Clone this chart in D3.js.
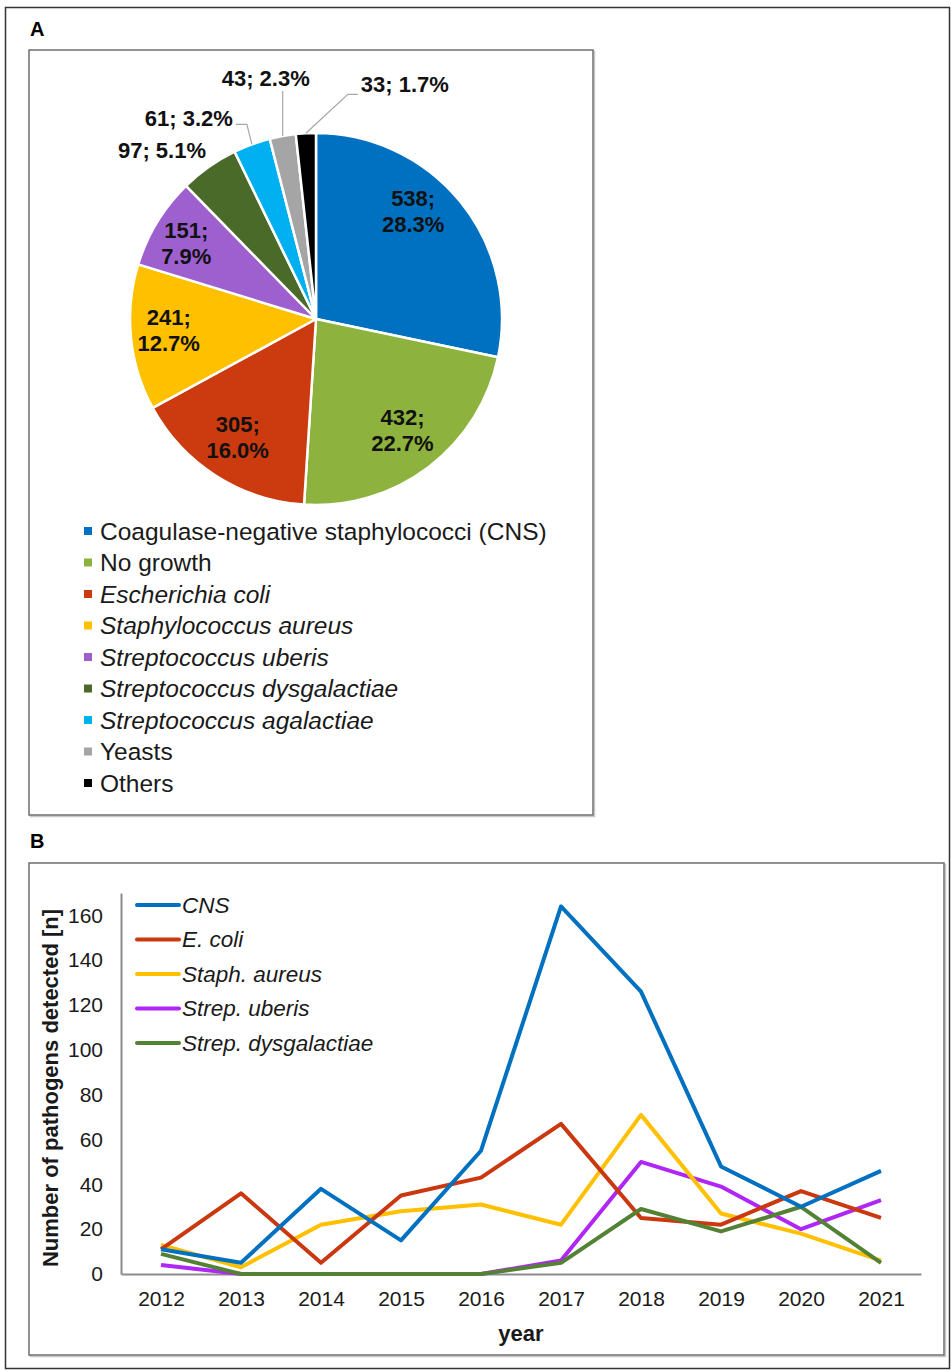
<!DOCTYPE html>
<html>
<head>
<meta charset="utf-8">
<script src="https://cdn.jsdelivr.net/npm/d3@7"></script>
<style>
  html, body { margin: 0; padding: 0; background: #fff; }
  svg { display: block; font-family: "Liberation Sans", Arial, sans-serif; }
</style>
</head>
<body>
<svg id="fig" width="951" height="1370"></svg>
<script>
// ---- Panel A: pathogen distribution ----
const pieCategories = [
  "Coagulase-negative staphylococci (CNS)", "No growth", "Escherichia coli",
  "Staphylococcus aureus", "Streptococcus uberis", "Streptococcus dysgalactiae",
  "Streptococcus agalactiae", "Yeasts", "Others"
];
const pieItalic = [false, false, true, true, true, true, true, false, false];
const pieCounts = [538, 432, 305, 241, 151, 97, 61, 43, 33];
const piePercents = ["28.3%", "22.7%", "16.0%", "12.7%", "7.9%", "5.1%", "3.2%", "2.3%", "1.7%"];
const pieColors = ["#0070C0", "#8DB33E", "#CC3A0F", "#FFC000", "#9F60CF", "#4A6A2A", "#00B0F0", "#A5A5A5", "#000000"];

// ---- Panel B: yearly counts ----
const years = ["2012", "2013", "2014", "2015", "2016", "2017", "2018", "2019", "2020", "2021"];
const seriesNames = ["CNS", "E. coli", "Staph. aureus", "Strep. uberis", "Strep. dysgalactiae"];
const cnsCounts    = [11, 5, 38, 15, 55, 164, 126, 48, 30, 46];
const ecoliCounts  = [11, 36, 5, 35, 43, 67, 25, 22, 37, 25];
const aureusCounts = [13, 3, 22, 28, 31, 22, 71, 27, 18, 6];
const uberisCounts = [4, 0, 0, 0, 0, 6, 50, 39, 20, 33];
const dysgalCounts = [9, 0, 0, 0, 0, 5, 29, 19, 30, 5];
const lineColors = ["#0070C0", "#C9380F", "#FFC000", "#B026F5", "#548235"];
const yTicks = [0, 20, 40, 60, 80, 100, 120, 140, 160];

const svg = d3.select("#fig");

// outer frame
svg.append("rect").attr("x", 5.5).attr("y", 7.5).attr("width", 944).attr("height", 1361)
  .attr("fill", "none").attr("stroke", "#333").attr("stroke-width", 1.5);

// panel letters
svg.append("text").attr("x", 30).attr("y", 36).attr("font-size", 20).attr("font-weight", "bold").text("A");
svg.append("text").attr("x", 30).attr("y", 848).attr("font-size", 20).attr("font-weight", "bold").text("B");

// panel boxes
function panelBox(x, y, w, h) {
  svg.append("rect").attr("x", x + 1.5).attr("y", y + 1.5).attr("width", w).attr("height", h)
    .attr("fill", "none").attr("stroke", "#c8c8c8").attr("stroke-width", 1.5);
  svg.append("rect").attr("x", x).attr("y", y).attr("width", w).attr("height", h)
    .attr("fill", "#fff").attr("stroke", "#6e6e6e").attr("stroke-width", 1.5);
}
panelBox(29, 50, 564, 765);
panelBox(29, 863, 915, 492);

// ---- pie ----
const cx = 316, cy = 319, R = 186;
const pieGen = d3.pie().sort(null).value(d => d);
const arcs = pieGen(pieCounts);
const arcGen = d3.arc().innerRadius(0).outerRadius(R);
const gPie = svg.append("g").attr("transform", `translate(${cx},${cy})`);

gPie.selectAll("path.slice").data(arcs).join("path")
  .attr("class", "slice")
  .attr("d", arcGen)
  .attr("fill", (d, i) => pieColors[i])
  .attr("stroke", "#fff").attr("stroke-width", 2.5).attr("stroke-linejoin", "round");

// labels inside large slices
const labelArc = d3.arc().innerRadius(138).outerRadius(138);
const insideNudge = [[-10, -22], [3, 0], [-4, 1], [-10, -4], [-12, -5]];
arcs.slice(0, 5).forEach((a, i) => {
  const [x, y] = labelArc.centroid(a);
  const t = gPie.append("text")
    .attr("text-anchor", "middle")
    .attr("font-size", 22).attr("font-weight", "bold").attr("fill", "#111");
  const lx = x + insideNudge[i][0], ly = y + insideNudge[i][1];
  t.append("tspan").attr("x", lx).attr("y", ly - 4).text(pieCounts[i] + ";");
  t.append("tspan").attr("x", lx).attr("y", ly + 22).text(piePercents[i]);
});

// labels outside small slices, with leader lines where needed
function edgePoint(a, r) {
  const ang = (a.startAngle + a.endAngle) / 2;
  return [r * Math.sin(ang), -r * Math.cos(ang)];
}
const outsideLayout = [
  { anchor: "end",    text: [-3, -15], leader: null },
  { anchor: "end",    text: [-19, -24], leader: [[-5, -20], [-16, -20]] },
  { anchor: "middle", text: [-17, -56], leader: [[0, -45]] },
  { anchor: "start",  text: [55, -47], leader: [[42, -39], [52, -39]] }
];
arcs.slice(5).forEach((a, k) => {
  const i = k + 5;
  const L = outsideLayout[k];
  const [ex, ey] = edgePoint(a, R);
  if (L.leader) {
    const pts = [[ex, ey]].concat(L.leader.map(p => [ex + p[0], ey + p[1]]));
    gPie.append("path").attr("d", d3.line()(pts))
      .attr("fill", "none").attr("stroke", "#a6a6a6").attr("stroke-width", 1.2);
  }
  gPie.append("text")
    .attr("x", ex + L.text[0]).attr("y", ey + L.text[1])
    .attr("text-anchor", L.anchor).attr("dominant-baseline", "middle")
    .attr("font-size", 22).attr("font-weight", "bold").attr("fill", "#111")
    .text(`${pieCounts[i]}; ${piePercents[i]}`);
});

// pie legend
const gLeg = svg.append("g").attr("transform", "translate(84,531)");
pieCategories.forEach((c, i) => {
  const row = gLeg.append("g").attr("transform", `translate(0,${i * 31.5})`);
  row.append("rect").attr("x", 0).attr("y", -4).attr("width", 8).attr("height", 8).attr("fill", pieColors[i]);
  row.append("text").attr("x", 16).attr("y", 0).attr("dominant-baseline", "central")
    .attr("font-size", 24.5).attr("fill", "#1a1a1a")
    .attr("font-style", pieItalic[i] ? "italic" : "normal").text(c);
});

// ---- line chart ----
const plotLeft = 121, plotRight = 921, plotTop = 893, plotBottom = 1274;
const x = d3.scalePoint().domain(years).range([plotLeft, plotRight]).padding(0.5);
const y = d3.scaleLinear().domain([0, 170]).range([plotBottom, plotTop]);

const yAxis = svg.append("g").attr("transform", `translate(${plotLeft},0)`)
  .call(d3.axisLeft(y).tickValues(yTicks).tickSize(0).tickPadding(18));
yAxis.select(".domain").attr("stroke", "#8c8c8c").attr("stroke-width", 2);
yAxis.selectAll("text").attr("font-size", 21).attr("fill", "#1a1a1a")
  .attr("font-family", "Liberation Sans, Arial, sans-serif");

const xAxis = svg.append("g").attr("transform", `translate(0,${plotBottom})`)
  .call(d3.axisBottom(x).tickSize(0).tickPadding(17));
xAxis.select(".domain").attr("stroke", "#8c8c8c").attr("stroke-width", 2);
xAxis.selectAll("text").attr("font-size", 21).attr("fill", "#1a1a1a")
  .attr("font-family", "Liberation Sans, Arial, sans-serif");

svg.append("text").attr("transform", "translate(58,1088) rotate(-90)")
  .attr("text-anchor", "middle").attr("font-size", 22).attr("font-weight", "bold").attr("fill", "#1a1a1a")
  .text("Number of pathogens detected [n]");
svg.append("text").attr("x", 521).attr("y", 1341)
  .attr("text-anchor", "middle").attr("font-size", 22).attr("font-weight", "bold").attr("fill", "#1a1a1a")
  .text("year");

const series = [cnsCounts, ecoliCounts, aureusCounts, uberisCounts, dysgalCounts];
const lineGen = d3.line().x((d, i) => x(years[i])).y(d => y(d));
// draw from back to front so CNS sits on top
[3, 2, 1, 4, 0].forEach(s => {
  svg.append("path").datum(series[s]).attr("d", lineGen)
    .attr("fill", "none").attr("stroke", lineColors[s]).attr("stroke-width", 4)
    .attr("stroke-linejoin", "round");
});

// line legend
const gLL = svg.append("g").attr("transform", "translate(137,905)");
seriesNames.forEach((n, i) => {
  const row = gLL.append("g").attr("transform", `translate(0,${i * 34.5})`);
  row.append("line").attr("x1", 0).attr("x2", 42).attr("y1", 0).attr("y2", 0)
    .attr("stroke", lineColors[i]).attr("stroke-width", 4).attr("stroke-linecap", "round");
  row.append("text").attr("x", 45).attr("y", 0).attr("dominant-baseline", "central")
    .attr("font-size", 22.5).attr("font-style", "italic").attr("fill", "#1a1a1a").text(n);
});
</script>
</body>
</html>
